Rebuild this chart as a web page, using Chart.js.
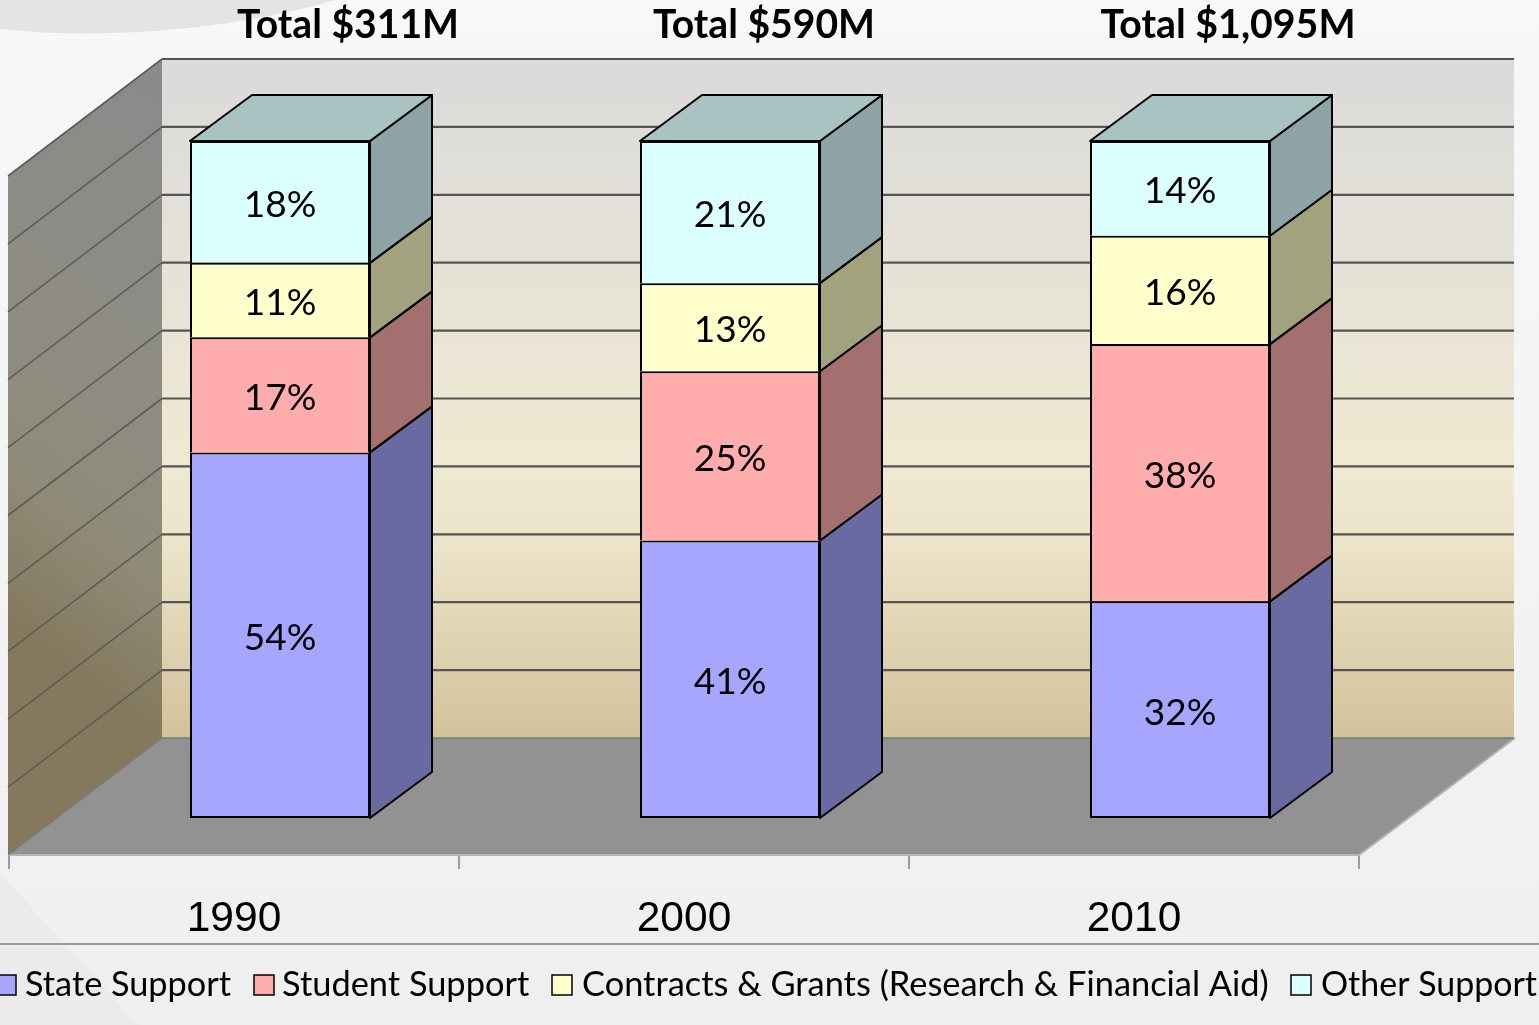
<!DOCTYPE html>
<html><head><meta charset="utf-8">
<style>html,body{margin:0;padding:0;background:#f4f4f4;overflow:hidden}canvas{display:block}</style>
<script src="https://cdn.jsdelivr.net/npm/chart.js@4"></script>
</head><body><canvas id="c" width="1539" height="1025"></canvas>
<script>
const categories = ['1990','2000','2010'];
const totals = ['Total $311M','Total $590M','Total $1,095M'];
const seriesNames = ['State Support','Student Support','Contracts & Grants (Research & Financial Aid)','Other Support'];
const stateSupport = [54,41,32];
const studentSupport = [17,25,38];
const contractsGrants = [11,13,16];
const otherSupport = [18,21,14];
const frontColors = ['#a6a6ff','#ffacac','#ffffcc','#dcffff'];
const sideColors = ['#6a6aa2','#a36f6f','#a2a27f','#8da3a5'];
const topColor = '#a9c3c3';

const depth = {x:62,y:-46};
const wall = {l:162,r:1514,t:59,b:738};
const front = {l:8,r:1359,b:855,t:176};
const FONT = 'Lato, "Open Sans", sans-serif';

const scene = {
  id:'scene',
  beforeDraw(ch){
    const c=ch.ctx;c.save();
    let g=c.createLinearGradient(0,0,0,1025);g.addColorStop(0,'#f8f8f8');g.addColorStop(1,'#efefef');
    c.fillStyle=g;c.fillRect(0,0,1539,1025);
    c.fillStyle='#e4e4e4';c.beginPath();c.moveTo(0,0);c.lineTo(335,0);c.bezierCurveTo(250,25,120,42,0,29);c.closePath();c.fill();
    c.fillStyle='#ebebeb';c.beginPath();c.moveTo(0,873);c.lineTo(138,1025);c.lineTo(0,1025);c.closePath();c.fill();
    c.strokeStyle='#7f7f7f';c.lineWidth=1.5;c.beginPath();c.moveTo(0,944);c.lineTo(1539,944);c.stroke();
    c.restore();
  },
  beforeDatasetsDraw(ch){
    const c=ch.ctx,y=ch.scales.y,x=ch.scales.x;c.save();
    // back wall
    let g=c.createLinearGradient(0,wall.t,0,wall.b);
    g.addColorStop(0,'#dadada');g.addColorStop(.6,'#f0e9d2');g.addColorStop(.72,'#ece3c8');g.addColorStop(1,'#d2c29a');
    c.fillStyle=g;c.fillRect(wall.l,wall.t,wall.r-wall.l,wall.b-wall.t);
    // left wall
    g=c.createLinearGradient(wall.l,wall.t,wall.l-326,wall.t+432);
    g.addColorStop(0,'#8a8a8a');g.addColorStop(.5,'#8e8c84');g.addColorStop(.78,'#8f8b78');g.addColorStop(1,'#84795d');
    c.fillStyle=g;c.beginPath();c.moveTo(wall.l,wall.t);c.lineTo(front.l,front.t);c.lineTo(front.l,front.b);c.lineTo(wall.l,wall.b);c.closePath();c.fill();
    // floor
    c.fillStyle='#929292';c.beginPath();c.moveTo(front.l,front.b);c.lineTo(front.r,front.b);c.lineTo(wall.r+1,wall.b);c.lineTo(wall.l,wall.b);c.closePath();c.fill();
    c.strokeStyle='#b4b4b4';c.lineWidth=2;c.beginPath();c.moveTo(front.l,front.b);c.lineTo(front.r,front.b);c.lineTo(wall.r+1,wall.b);c.stroke();
    c.strokeStyle='#7a7a7a';c.lineWidth=1.5;c.beginPath();c.moveTo(wall.l,wall.b);c.lineTo(wall.r,wall.b);c.moveTo(wall.l,wall.b);c.lineTo(front.l,front.b);c.stroke();
    // gridlines from the y scale
    const k=(wall.b-wall.t)/(y.bottom-y.top);
    y.ticks.forEach((t,i)=>{
      if(t.value===0)return;
      const py=wall.b-(y.bottom-y.getPixelForValue(t.value))*k;
      c.strokeStyle='#555';c.lineWidth=2.2;c.beginPath();c.moveTo(wall.r,py);c.lineTo(wall.l,py);c.stroke();
      c.strokeStyle='#5c5c58';c.lineWidth=1.6;c.beginPath();c.moveTo(wall.l,py);c.lineTo(front.l,py+(front.b-wall.b));c.stroke();
    });
    // x ticks on the floor edge
    const step=x.getPixelForValue(1)-x.getPixelForValue(0);
    c.strokeStyle='#808080';c.lineWidth=1.5;
    for(let i=0;i<=categories.length;i++){
      const px=x.getPixelForValue(0)-step/2-46+step*i;
      c.beginPath();c.moveTo(px,856);c.lineTo(px,869);c.stroke();
    }
    // bar sides and tops
    c.lineJoin='round';c.strokeStyle='#000';c.lineWidth=2;
    ch.data.datasets.forEach((ds,di)=>{
      ch.getDatasetMeta(di).data.forEach(el=>{
        const p=el.getProps(['x','y','base','width'],true);
        const R=p.x+p.width/2,L=p.x-p.width/2;
        c.fillStyle=sideColors[di];c.beginPath();
        c.moveTo(R,p.base);c.lineTo(R+depth.x,p.base+depth.y);c.lineTo(R+depth.x,p.y+depth.y);c.lineTo(R,p.y);c.closePath();c.fill();c.stroke();
        if(di===ch.data.datasets.length-1){
          c.fillStyle=topColor;c.beginPath();
          c.moveTo(L,p.y);c.lineTo(L+depth.x,p.y+depth.y);c.lineTo(R+depth.x,p.y+depth.y);c.lineTo(R,p.y);c.closePath();c.fill();c.stroke();
        }
      });
    });
    c.restore();
  },
  afterDatasetsDraw(ch){
    const c=ch.ctx;c.save();
    c.fillStyle='#000';c.textAlign='center';c.textBaseline='middle';c.font='37px '+FONT;
    ch.data.datasets.forEach((ds,di)=>{
      ch.getDatasetMeta(di).data.forEach((el,i)=>{
        const p=el.getProps(['x','y','base'],true);
        c.fillText(ds.data[i]+'%',p.x,(p.y+p.base)/2+3,73);
      });
    });
    // totals above each column
    c.font='bold 39.5px '+FONT;
    const tx=[348,764,1228],tw=[222,222,255];
    totals.forEach((t,i)=>c.fillText(t,tx[i],25,tw[i]));
    // legend
    c.textAlign='left';c.font='34.4px '+FONT;
    const bx=[-4,254,552,1291],tl=[25,282,582,1321],wd=[206,248,687,216];
    seriesNames.forEach((n,i)=>{
      c.fillStyle=frontColors[i];c.fillRect(bx[i],975,20,20);
      c.strokeStyle='#000';c.lineWidth=1.5;c.strokeRect(bx[i],975,20,20);
      c.fillStyle='#000';c.fillText(n,tl[i],985,wd[i]);
    });
    c.restore();
  }
};

const makeDs=(label,data,i)=>({label,data,backgroundColor:frontColors[i],borderColor:'#000',borderWidth:2,borderSkipped:i===0?false:'start',stack:'s',categoryPercentage:1,barPercentage:.4});
new Chart(document.getElementById('c'),{
  type:'bar',
  data:{labels:categories,datasets:[
    makeDs(seriesNames[0],stateSupport,0),
    makeDs(seriesNames[1],studentSupport,1),
    makeDs(seriesNames[2],contractsGrants,2),
    makeDs(seriesNames[3],otherSupport,3)
  ]},
  options:{
    responsive:false,animation:false,
    layout:{padding:{left:55,right:134,top:141,bottom:0}},
    plugins:{legend:{display:false},tooltip:{enabled:false},title:{display:false}},
    scales:{
      x:{stacked:true,grid:{display:false},border:{display:false},
        ticks:{labelOffset:-46,padding:68,maxRotation:0,color:'#000',font:{family:'"Liberation Sans"',size:42.5}},
        afterFit(s){s.height=207;}},
      y:{stacked:true,display:false,min:0,max:100,ticks:{stepSize:10}}
    }
  },
  plugins:[scene]
});
</script></body></html>
